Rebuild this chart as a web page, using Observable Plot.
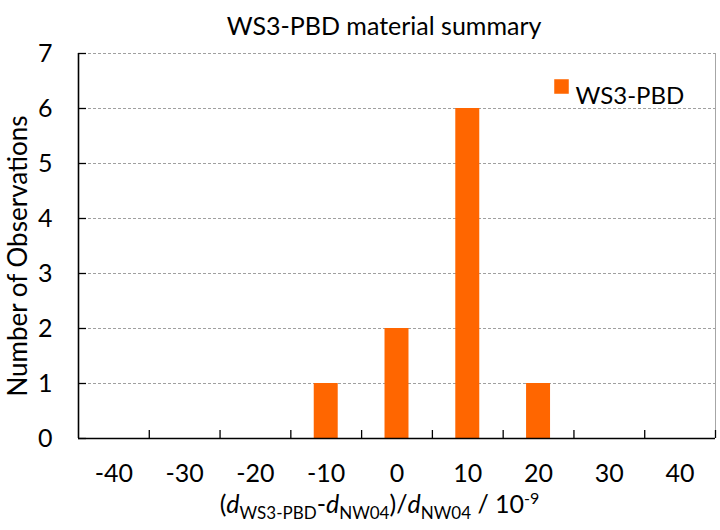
<!DOCTYPE html>
<html><head><meta charset="utf-8">
<script src="https://cdn.jsdelivr.net/npm/d3@7"></script>
<script src="https://cdn.jsdelivr.net/npm/@observablehq/plot@0.6"></script>
<style>body{margin:0;background:#fff;}</style>
</head><body><div id="chart"></div>
<script>
const title = "WS3-PBD material summary";
const seriesName = "WS3-PBD";
const yLabel = "Number of Observations";
const categories = [-40, -30, -20, -10, 0, 10, 20, 30, 40];
const counts = [0, 0, 0, 1, 2, 6, 1, 0, 0];
const yTicks = [0, 1, 2, 3, 4, 5, 6, 7];
const binWidth = 10;

const FONT = "Lato, 'Open Sans', sans-serif";
const ORANGE = "#ff6600";
const data = categories.map((c, i) => ({x: c, n: counts[i]}));
const xDomain = [categories[0] - binWidth / 2, categories[categories.length - 1] + binWidth / 2];
const boundaries = d3.range(xDomain[0] + binWidth, xDomain[1] + binWidth / 2, binWidth);

const W = 720, H = 530, ML = 78, MR = 5, MT = 53, MB = 92;

const plot = Plot.plot({
  width: W, height: H,
  marginLeft: ML, marginRight: MR, marginTop: MT, marginBottom: MB,
  style: {fontFamily: FONT, fontSize: "25px", color: "#000", background: "#fff", overflow: "visible"},
  x: {type: "linear", domain: xDomain},
  y: {domain: [0, 7]},
  marks: [
    Plot.gridY(yTicks.slice(1), {stroke: "#a0a0a0", strokeOpacity: 1, strokeDasharray: "3,2"}),
    Plot.ruleX([xDomain[1]], {stroke: "#a6a6a6"}),
    Plot.rectY(data.filter(d => d.n > 0), {
      x1: d => d.x - binWidth / 2, x2: d => d.x + binWidth / 2, y: "n",
      fill: ORANGE, insetLeft: 23.4, insetRight: 23.4
    }),
    Plot.axisX(categories, {tickSize: 0, tickPadding: 26, tickFormat: d => String(d), label: null, fontSize: 25}),
    Plot.axisX(boundaries, {tickSize: -8, fill: null, label: null, strokeWidth: 1.3}),
    Plot.axisY(yTicks, {tickSize: 0, tickPadding: 26, tickFormat: d => String(d), label: null, fontSize: 25}),
    Plot.axisY(yTicks, {tickSize: -8, fill: null, label: null, strokeWidth: 1.3}),
    Plot.ruleX([xDomain[0]], {stroke: "#000", strokeWidth: 1.6}),
    Plot.ruleY([0], {stroke: "#000", strokeWidth: 1.6}),
    Plot.text([title], {frameAnchor: "top", dx: -13, dy: -36, fontSize: 25}),
    Plot.text([yLabel], {frameAnchor: "left", textAnchor: "middle", rotate: -90, dx: -60, dy: 10, fontSize: 26}),
    Plot.dot([seriesName], {frameAnchor: "top-left", dx: 483, dy: 33, symbol: "square", r: 8.2, fill: ORANGE, stroke: null}),
    Plot.text([seriesName], {frameAnchor: "top-left", dx: 497, dy: 33, textAnchor: "start", fontSize: 24})
  ]
});

// x-axis label with italic variables and sub/superscripts
const svg = d3.select(plot);
const lab = svg.append("text")
  .attr("x", (ML + (W - MR)) / 2 - 17)
  .attr("y", 513)
  .attr("text-anchor", "middle")
  .attr("fill", "#000")
  .style("font-family", FONT)
  .style("font-size", "25px");
const parts = [
  {t: "("},
  {t: "d", i: true},
  {t: "WS3-PBD", sub: true},
  {t: "-", back: true},
  {t: "d", i: true},
  {t: "NW04", sub: true},
  {t: ")/", back: true},
  {t: "d", i: true},
  {t: "NW04", sub: true},
  {t: " / 10", back: true},
  {t: "-9", sup: true}
];
parts.forEach(p => {
  const ts = lab.append("tspan").text(p.t);
  if (p.i) ts.style("font-style", "italic");
  if (p.sub) ts.attr("dy", 6).style("font-size", "17px");
  if (p.back) ts.attr("dy", -6);
  if (p.sup) ts.attr("dy", -9).style("font-size", "16px");
});
document.getElementById("chart").append(plot);
</script>
</body></html>
